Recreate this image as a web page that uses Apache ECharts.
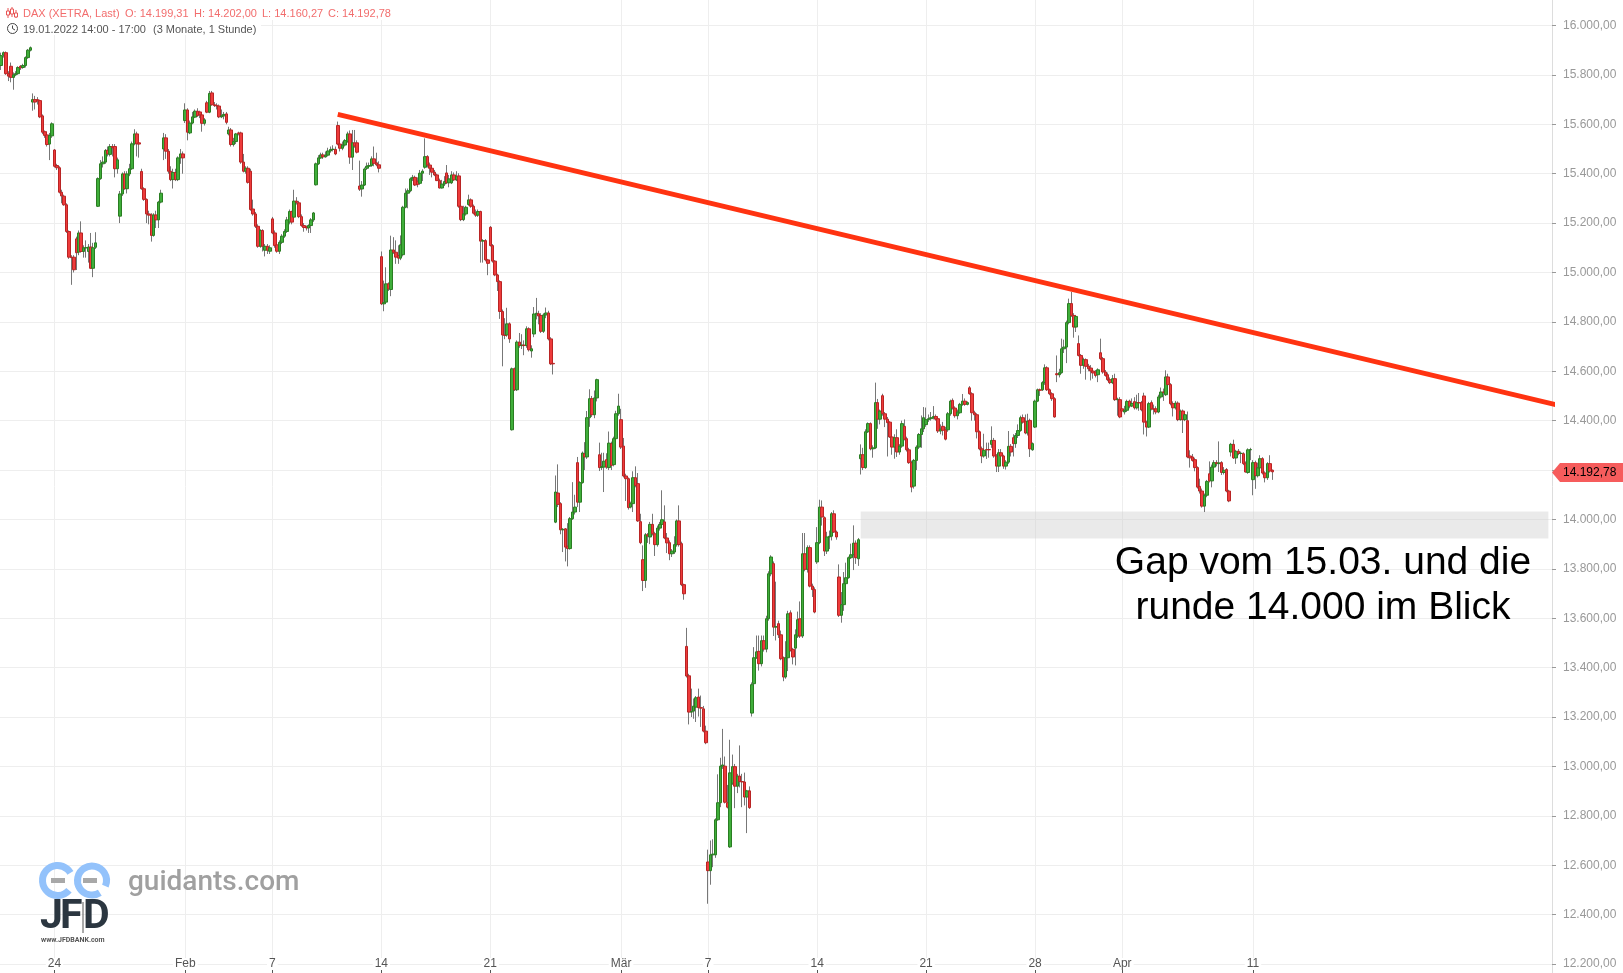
<!DOCTYPE html>
<html lang="de">
<head>
<meta charset="UTF-8">
<title>DAX Gap</title>
<script src="https://cdn.jsdelivr.net/npm/echarts@6/dist/echarts.min.js"></script>
<style>
html,body{margin:0;padding:0;background:#fff}
#my{width:1623px;height:973px}
</style>
</head>
<body>
<div id="my"></div>
<script>
// hourly candles, one row per trading day (9 candles a day, first row is the tail of 19.01.)
var openVals = [
15838,15880,15890,15805,
15835,15790,15800,15805,15835,15830,15838,15870,15900,
15690,15700,15700,15696,15634,15570,15557,15520,15553,
15496,15433,15424,15325,15309,15274,15166,15062,15062,
15136,15082,15160,15085,15100,15085,15103,15017,15102,
15268,15380,15440,15447,15495,15478,15510,15510,15420,
15228,15318,15399,15339,15399,15420,15521,15561,15525,
15409,15339,15296,15237,15233,15150,15233,15213,15285,
15500,15545,15491,15410,15376,15405,15376,15464,15480,
15615,15658,15565,15605,15629,15653,15650,15638,15604,
15687,15649,15727,15679,15677,15674,15630,15634,15642,
15561,15577,15518,15530,15565,15565,15447,15410,15422,
15410,15257,15237,15187,15106,15170,15090,15106,15086,
15217,15160,15112,15086,15122,15147,15166,15204,15247,
15224,15289,15282,15226,15190,15184,15180,15190,15213,
15355,15440,15464,15476,15468,15475,15492,15498,15498,
15595,15520,15503,15516,15531,15561,15467,15525,15525,
15350,15338,15354,15422,15430,15433,15460,15444,15436,
15064,14873,14880,14954,14931,15091,15082,15069,15058,
15072,15264,15321,15331,15379,15385,15370,15361,15402,
15426,15469,15435,15422,15406,15395,15372,15342,15358,
15403,15363,15363,15395,15375,15391,15268,15214,15237,
15275,15294,15268,15241,15232,15247,15127,15129,15051,
15183,15109,15046,14990,14963,14842,14747,14747,14792,
14363,14610,14525,14718,14704,14706,14704,14772,14682,
14751,14832,14833,14826,14762,14828,14836,14731,14632,
13989,14107,14064,13958,13962,13892,13882,14003,14030,
14230,14070,14149,14266,14253,14412,14489,14424,14492,
14262,14210,14212,14242,14210,14307,14222,14327,14428,
14404,14297,14176,14165,14050,14064,14169,14145,13991,
13837,13753,13938,13929,13980,13942,13898,13965,13980,
13990,13925,13906,13861,13868,13898,13994,13902,13736,
13486,13367,13220,13224,13240,13281,13238,13233,13143,
12613,12578,12642,12642,12784,12853,13001,13001,12853,
12674,12932,12999,12920,12961,12939,12937,12876,12901,
13216,13335,13440,13466,13416,13509,13475,13598,13780,
13821,13564,13578,13533,13440,13362,13440,13622,13474,
13479,13528,13598,13528,13861,13798,13886,13730,13716,
13828,13906,14050,14007,13872,13929,13932,14023,13949,
13767,13612,13655,13740,13764,13845,13857,13904,13841,
14246,14262,14210,14355,14388,14286,14290,14473,14406,
14501,14428,14406,14394,14334,14293,14331,14273,14297,
14377,14327,14282,14230,14135,14239,14293,14344,14367,
14384,14404,14408,14412,14417,14408,14358,14377,14363,
14363,14428,14482,14451,14420,14432,14466,14479,14466,
14533,14509,14432,14424,14355,14286,14257,14283,14283,
14304,14320,14257,14216,14270,14257,14216,14232,14296,
14331,14307,14340,14360,14412,14398,14350,14401,14282,
14374,14479,14525,14525,14554,14614,14525,14509,14489,
14590,14586,14594,14691,14698,14797,14874,14826,14779,
14712,14664,14624,14647,14621,14613,14601,14597,14586,
14675,14651,14597,14586,14566,14554,14570,14485,14485,
14448,14435,14442,14479,14459,14477,14452,14473,14473,
14500,14394,14374,14473,14448,14448,14435,14496,14516,
14505,14577,14546,14469,14452,14471,14404,14439,14404,
14400,14257,14253,14242,14210,14134,14115,14054,14098,
14185,14156,14212,14230,14226,14230,14190,14202,14115,
14273,14304,14249,14276,14267,14266,14228,14190,14282,
14161,14230,14177,14209,14246,14188,14169,14226,14199.31
];
var closeVals = [
15878,15890,15805,15795,
15790,15800,15805,15830,15828,15838,15870,15900,15910,
15700,15690,15695,15630,15568,15555,15518,15555,15602,
15430,15424,15325,15310,15274,15166,15062,15060,15011,
15080,15160,15085,15100,15100,15103,15017,15100,15120,
15380,15440,15447,15494,15480,15510,15505,15420,15456,
15318,15399,15339,15399,15420,15521,15561,15521,15520,
15339,15296,15237,15232,15150,15233,15213,15285,15321,
15545,15491,15410,15376,15405,15376,15464,15480,15464,
15658,15568,15605,15630,15653,15635,15638,15604,15618,
15649,15725,15679,15676,15674,15630,15634,15640,15608,
15577,15518,15530,15561,15562,15447,15410,15422,15365,
15255,15237,15187,15106,15170,15106,15106,15090,15100,
15160,15109,15086,15122,15147,15166,15213,15247,15204,
15289,15284,15226,15190,15182,15180,15190,15213,15241,
15440,15464,15476,15468,15475,15492,15498,15499,15480,
15520,15503,15516,15534,15561,15467,15525,15512,15487,
15337,15354,15419,15430,15433,15460,15442,15436,15422,
14873,14878,14954,14933,15091,15082,15062,15058,15112,
15264,15321,15331,15379,15385,15354,15356,15402,15410,
15469,15435,15422,15406,15395,15372,15342,15358,15368,
15363,15379,15395,15375,15390,15268,15214,15237,15264,
15294,15268,15240,15232,15247,15127,15129,15051,15037,
15109,15046,14990,14963,14842,14747,14745,14792,14731,
14610,14525,14718,14704,14706,14704,14772,14687,14691,
14832,14835,14824,14762,14828,14836,14731,14630,14630,
14111,14061,13958,13960,13888,13882,14003,14030,14050,
14070,14149,14269,14253,14412,14489,14424,14492,14566,
14210,14214,14236,14212,14309,14219,14327,14428,14459,
14293,14176,14165,14048,14064,14169,14138,13994,13906,
13753,13938,13933,13980,13942,13898,13965,13980,13999,
13925,13905,13861,13872,13898,13994,13898,13736,13699,
13366,13220,13222,13244,13278,13238,13236,13143,13096,
12578,12642,12645,12784,12853,13001,13006,12855,12835,
12974,12999,12920,12961,12939,12937,12876,12901,12833,
13331,13440,13464,13416,13509,13475,13598,13780,13848,
13564,13566,13533,13436,13362,13440,13618,13470,13443,
13533,13594,13528,13861,13798,13886,13730,13716,13625,
13906,14050,14010,13872,13929,13932,14023,13949,13929,
13612,13655,13740,13764,13845,13857,13904,13845,13918,
14262,14210,14355,14388,14286,14290,14473,14406,14439,
14428,14406,14392,14334,14293,14331,14273,14297,14388,
14325,14282,14230,14131,14239,14293,14344,14367,14412,
14404,14408,14412,14417,14406,14358,14366,14361,14325,
14428,14479,14451,14420,14435,14466,14479,14466,14473,
14509,14432,14424,14355,14286,14257,14280,14282,14282,
14320,14257,14216,14270,14257,14216,14232,14296,14273,
14307,14340,14360,14412,14394,14350,14398,14286,14307,
14479,14525,14523,14554,14614,14525,14509,14489,14415,
14586,14594,14691,14698,14797,14874,14826,14779,14822,
14664,14624,14647,14620,14610,14601,14593,14583,14606,
14651,14597,14583,14566,14554,14570,14485,14487,14415,
14439,14442,14478,14459,14470,14452,14473,14472,14444,
14394,14374,14469,14448,14446,14435,14496,14516,14515,
14577,14546,14469,14452,14471,14404,14439,14404,14424,
14253,14249,14239,14210,14131,14115,14054,14098,14154,
14156,14212,14230,14226,14229,14190,14199,14115,14075,
14304,14249,14276,14267,14268,14226,14192,14282,14283,
14230,14177,14209,14246,14188,14169,14226,14196,14192.78
];
var lowVals = [
15820,15870,15800,15775,
15770,15740,15795,15800,15820,15825,15830,15865,15895,
15655,15660,15680,15625,15560,15545,15510,15455,15545,
15425,15415,15320,15280,15270,15160,15055,14950,15000,
15010,15070,15080,15060,15060,15040,15015,14981,15095,
15265,15375,15425,15440,15470,15470,15470,15385,15400,
15200,15310,15335,15320,15390,15415,15515,15470,15465,
15335,15290,15200,15195,15125,15145,15180,15180,15280,
15455,15460,15400,15370,15340,15370,15370,15440,15400,
15605,15535,15560,15600,15625,15630,15625,15570,15595,
15645,15645,15675,15670,15660,15625,15625,15620,15600,
15555,15510,15510,15520,15555,15440,15405,15400,15360,
15250,15230,15180,15100,15100,15085,15065,15075,15075,
15155,15100,15080,15075,15115,15140,15160,15195,15195,
15215,15275,15220,15185,15165,15170,15160,15160,15205,
15352,15435,15460,15460,15465,15470,15485,15490,15475,
15515,15490,15495,15510,15525,15440,15415,15505,15482,
15330,15307,15350,15415,15425,15428,15430,15430,15405,
14868,14843,14875,14925,14904,15075,15035,15035,15050,
15065,15260,15260,15325,15370,15350,15345,15355,15370,
15420,15425,15395,15385,15390,15370,15340,15340,15350,
15358,15345,15358,15370,15370,15262,15208,15208,15230,
15270,15262,15235,15225,15225,15040,15040,15045,14989,
15105,15040,14985,14925,14812,14620,14730,14740,14715,
14360,14520,14520,14695,14690,14665,14695,14680,14655,
14738,14810,14790,14755,14755,14815,14725,14625,14587,
13985,14050,13940,13868,13830,13810,13878,13998,14020,
14050,14030,14145,14200,14245,14375,14415,14410,14478,
14196,14200,14111,14205,14200,14200,14215,14320,14420,
14285,14170,14075,14040,14045,14030,14130,13990,13900,
13710,13723,13905,13900,13935,13852,13890,13955,13975,
13920,13864,13835,13848,13860,13890,13890,13730,13675,
13360,13170,13200,13193,13180,13202,13160,13138,13090,
12444,12521,12592,12630,12780,12835,12990,12850,12830,
12670,12925,12831,12892,12915,12835,12842,12730,12828,
13202,13300,13435,13388,13405,13465,13462,13590,13770,
13528,13510,13520,13430,13345,13355,13386,13465,13413,
13409,13520,13520,13520,13790,13785,13725,13686,13620,
13820,13900,13975,13852,13860,13880,13915,13945,13918,
13605,13582,13630,13735,13760,13840,13795,13820,13812,
14182,14200,14205,14350,14280,14250,14285,14367,14385,
14420,14374,14255,14330,14262,14246,14253,14262,14290,
14320,14275,14225,14110,14125,14200,14285,14290,14354,
14375,14395,14400,14405,14400,14350,14345,14340,14320,
14355,14420,14445,14412,14405,14428,14460,14460,14462,
14505,14400,14400,14328,14280,14228,14250,14245,14250,
14290,14250,14192,14192,14240,14205,14202,14225,14255,
14255,14290,14330,14355,14388,14345,14340,14253,14278,
14370,14475,14500,14520,14545,14520,14503,14480,14412,
14556,14575,14590,14674,14633,14790,14820,14736,14759,
14660,14590,14610,14566,14600,14563,14570,14575,14556,
14645,14590,14578,14560,14548,14548,14480,14420,14410,
14415,14425,14435,14450,14455,14445,14445,14440,14438,
14344,14336,14370,14442,14425,14426,14430,14490,14480,
14500,14540,14462,14417,14445,14398,14400,14350,14398,
14248,14210,14234,14195,14125,14105,14048,14030,14090,
14150,14130,14200,14215,14192,14180,14182,14110,14070,
14255,14245,14225,14260,14228,14220,14190,14185,14240,
14098,14124,14170,14205,14182,14150,14160,14190,14160.27
];
var highVals = [
15890,15895,15895,15815,
15850,15810,15815,15835,15840,15845,15875,15905,15915,
15725,15715,15710,15700,15640,15575,15570,15565,15608,
15500,15440,15430,15335,15315,15280,15170,15070,15070,
15145,15170,15207,15110,15130,15115,15160,15120,15163,
15385,15455,15470,15500,15510,15520,15520,15520,15465,
15330,15405,15410,15410,15440,15530,15580,15570,15530,
15420,15345,15300,15250,15240,15240,15250,15290,15335,
15565,15560,15500,15430,15420,15420,15470,15500,15490,
15685,15665,15615,15650,15660,15665,15655,15645,15625,
15695,15735,15735,15690,15685,15680,15660,15650,15650,
15590,15585,15545,15565,15570,15570,15480,15430,15430,
15420,15295,15245,15195,15175,15175,15115,15115,15110,
15225,15170,15125,15130,15155,15175,15225,15255,15250,
15335,15305,15290,15235,15200,15190,15195,15220,15245,
15445,15475,15485,15485,15490,15505,15510,15515,15510,
15611,15540,15530,15540,15570,15575,15577,15577,15535,
15453,15370,15425,15445,15445,15470,15510,15485,15450,
15085,14967,15021,14960,15149,15143,15130,15110,15150,
15270,15340,15340,15385,15395,15392,15385,15415,15418,
15543,15475,15445,15430,15415,15400,15380,15375,15390,
15435,15395,15410,15405,15410,15402,15335,15270,15270,
15315,15300,15275,15255,15255,15250,15135,15135,15055,
15188,15115,15050,14995,14968,14850,14815,14857,14798,
14615,14615,14725,14755,14750,14725,14782,14778,14705,
14860,14897,14845,14835,14835,14858,14845,14738,14640,
14178,14223,14070,13965,13965,13985,14010,14151,14100,
14253,14155,14275,14313,14439,14527,14500,14522,14570,
14311,14270,14270,14268,14356,14315,14335,14440,14509,
14448,14330,14185,14170,14072,14195,14215,14188,14023,
13895,13945,13945,13990,14023,13950,13975,13990,14118,
14057,13945,13915,13880,13932,14000,14057,13910,13740,
13561,13375,13315,13275,13285,13315,13287,13245,13165,
12663,12700,12705,12790,12968,13035,13152,13040,12925,
13108,13048,13010,12970,13085,12970,12975,12905,12919,
13340,13483,13530,13530,13530,13530,13610,13790,13855,
13830,13748,13590,13550,13445,13507,13630,13632,13480,
13555,13627,13668,13945,13945,13895,13895,13740,13725,
13969,14080,14077,14012,13950,13955,14030,14037,13955,
13818,13706,13787,13825,13850,13902,13976,13915,13925,
14304,14290,14365,14393,14393,14300,14554,14488,14445,
14509,14435,14415,14398,14340,14345,14365,14305,14400,
14405,14335,14290,14238,14245,14300,14350,14421,14455,
14453,14425,14435,14459,14425,14415,14385,14395,14375,
14435,14485,14490,14458,14445,14472,14508,14490,14478,
14540,14515,14440,14430,14360,14295,14347,14311,14311,
14377,14330,14265,14285,14285,14262,14240,14358,14305,
14345,14350,14385,14420,14425,14425,14428,14408,14312,
14485,14530,14530,14560,14628,14620,14530,14515,14495,
14664,14610,14732,14728,14805,14894,14921,14835,14828,
14745,14670,14655,14652,14630,14625,14610,14605,14612,
14732,14658,14605,14595,14575,14585,14590,14493,14495,
14455,14460,14485,14485,14490,14495,14505,14512,14480,
14513,14400,14476,14482,14465,14458,14505,14534,14530,
14604,14590,14552,14478,14480,14478,14445,14445,14430,
14437,14280,14265,14250,14215,14165,14125,14105,14160,
14235,14222,14240,14240,14316,14236,14212,14208,14120,
14310,14323,14282,14285,14275,14272,14235,14288,14290,
14240,14238,14230,14260,14252,14195,14232,14260,14202
];
// date axis: slot number of the first candle of the labelled day
var slotCount = 641;
var tickSlots = [22,76,112,157,202,256,292,337,382,427,463,517];
var tickLabels = ['24','Feb','7','14','21','Mär','7','14','21','28','Apr','11'];
// trend line and gap zone
var trendSlots = [139,642];
var trendValues = [15640,14465];
var gapSlots = [355,639];
var gapValues = [14032,13923];
var lastPrice = '14.192,78';

var slots = [];
for (var i = 0; i < slotCount; i++) slots.push(String(i));
var wicks = openVals.map(function (o, k) { return [o, closeVals[k], lowVals[k], highVals[k]]; });
// bodies only: low/high clamped to the body so the wick layer below stays gray
var bodies = openVals.map(function (o, k) {
    return [o, closeVals[k], Math.min(o, closeVals[k]), Math.max(o, closeVals[k])];
});
function isTick(index) { return tickSlots.indexOf(index) >= 0; }
function fmtPrice(v) { return String(v).replace(/\B(?=(\d{3})+$)/g, '.') + ',00'; }

var sans = '"Liberation Sans", Arial, sans-serif';
var gridColor = '#eeeeee';

var mCharts = echarts.init(document.getElementById('my'), null, {renderer: 'canvas'});
mCharts.setOption({
    animation: false,
    backgroundColor: '#fff',
    grid: [
        {left: 0, right: 71, top: 0, bottom: 0},   // date axis, full height
        {left: 0, right: 71, top: 25.5, bottom: 9}   // price axis
    ],
    xAxis: [
        {
            gridIndex: 0, type: 'category', data: slots, position: 'bottom',
            axisLine: {show: false},
            axisTick: {show: true, inside: true, length: 3, alignWithLabel: true, interval: isTick, lineStyle: {color: '#555'}},
            splitLine: {show: true, alignWithLabel: true, interval: isTick, lineStyle: {color: gridColor}},
            axisLabel: {
                inside: true, margin: 3, interval: isTick, color: '#555', fontFamily: sans, fontSize: 12,
                backgroundColor: '#fff', padding: [0, 2, 0, 2],
                formatter: function (v) { return tickLabels[tickSlots.indexOf(+v)]; }
            }
        },
        {gridIndex: 1, type: 'category', data: slots, show: false}
    ],
    yAxis: [
        {
            gridIndex: 0, type: 'value', position: 'right', min: 0, max: 1,
            axisLine: {show: true, lineStyle: {color: '#dddddd'}},
            axisTick: {show: false}, axisLabel: {show: false}, splitLine: {show: false}
        },
        {
            gridIndex: 1, type: 'value', position: 'right', min: 12200, max: 16000, interval: 200,
            axisLine: {show: false},
            axisTick: {show: true, length: 4, lineStyle: {color: '#999'}},
            splitLine: {show: true, lineStyle: {color: gridColor}},
            axisLabel: {color: '#999', fontFamily: sans, fontSize: 12, margin: 11, formatter: fmtPrice}
        }
    ],
    series: [
        {
            name: 'gap', type: 'line', xAxisIndex: 1, yAxisIndex: 1, data: [], z: 1, silent: true,
            markArea: {
                silent: true,
                itemStyle: {color: 'rgba(205,205,205,0.42)'},
                data: [[{xAxis: gapSlots[0], yAxis: gapValues[0]}, {xAxis: gapSlots[1], yAxis: gapValues[1]}]]
            }
        },
        {
            name: 'wick', type: 'candlestick', xAxisIndex: 1, yAxisIndex: 1, data: wicks, barWidth: 1, z: 3,
            large: false, progressive: 0,
            itemStyle: {color: '#777', color0: '#777', borderColor: '#777', borderColor0: '#777', borderWidth: 1}
        },
        {
            name: 'DAX', type: 'candlestick', xAxisIndex: 1, yAxisIndex: 1, data: bodies, barWidth: 3, z: 4,
            large: false, progressive: 0,
            itemStyle: {color: '#3fae3a', color0: '#ee3b3b', borderColor: '#2a7d22', borderColor0: '#b92424', borderWidth: 1}
        },
        {
            name: 'trend', type: 'line', xAxisIndex: 1, yAxisIndex: 1, z: 5, symbol: 'none', silent: true, clip: false,
            data: [[trendSlots[0], trendValues[0]], [trendSlots[1], trendValues[1]]],
            lineStyle: {color: '#ff3311', width: 5}
        }
    ],
    graphic: [
        // header box
        {type: 'rect', z: 20, shape: {x: 0, y: 0, width: 393, height: 20}, style: {fill: '#fff'}},
        {type: 'rect', z: 20, shape: {x: 0, y: 20, width: 261, height: 15}, style: {fill: '#fff'}},
        {type: 'text', z: 21, x: 23, y: 14, style: {text: 'DAX (XETRA, Last)', fill: '#f26d6d', font: '11px ' + sans, verticalAlign: 'middle'}},
        {type: 'text', z: 21, x: 125, y: 14, style: {text: 'O: 14.199,31', fill: '#f26d6d', font: '11px ' + sans, verticalAlign: 'middle'}},
        {type: 'text', z: 21, x: 194, y: 14, style: {text: 'H: 14.202,00', fill: '#f26d6d', font: '11px ' + sans, verticalAlign: 'middle'}},
        {type: 'text', z: 21, x: 262, y: 14, style: {text: 'L: 14.160,27', fill: '#f26d6d', font: '11px ' + sans, verticalAlign: 'middle'}},
        {type: 'text', z: 21, x: 328, y: 14, style: {text: 'C: 14.192,78', fill: '#f26d6d', font: '11px ' + sans, verticalAlign: 'middle'}},
        {type: 'text', z: 21, x: 23, y: 30, style: {text: '19.01.2022 14:00 - 17:00', fill: '#555', font: '11px ' + sans, verticalAlign: 'middle'}},
        {type: 'text', z: 21, x: 153, y: 30, style: {text: '(3 Monate, 1 Stunde)', fill: '#555', font: '11px ' + sans, verticalAlign: 'middle'}},
        // candle icon
        {type: 'line', z: 21, shape: {x1: 8, y1: 8, x2: 8, y2: 18}, style: {stroke: '#e85555', lineWidth: 1}},
        {type: 'rect', z: 21, shape: {x: 6.5, y: 11, width: 3, height: 4}, style: {fill: '#fff', stroke: '#e85555'}},
        {type: 'line', z: 21, shape: {x1: 12, y1: 7, x2: 12, y2: 17}, style: {stroke: '#e85555', lineWidth: 1}},
        {type: 'rect', z: 21, shape: {x: 10.5, y: 9, width: 3, height: 5}, style: {fill: '#fff', stroke: '#e85555'}},
        {type: 'line', z: 21, shape: {x1: 16, y1: 10, x2: 16, y2: 18}, style: {stroke: '#e85555', lineWidth: 1}},
        {type: 'rect', z: 21, shape: {x: 14.5, y: 13, width: 3, height: 4}, style: {fill: '#fff', stroke: '#e85555'}},
        // clock icon
        {type: 'circle', z: 21, shape: {cx: 12.5, cy: 28.5, r: 5}, style: {fill: 'none', stroke: '#444', lineWidth: 1}},
        {type: 'polyline', z: 21, shape: {points: [[12.5, 25.5], [12.5, 28.5], [15, 30]]}, style: {fill: 'none', stroke: '#444', lineWidth: 1}},
        // annotation
        {type: 'text', z: 22, x: 1323, y: 563, style: {text: 'Gap vom 15.03. und die', fill: '#000', font: '39px ' + sans, align: 'center', verticalAlign: 'middle'}},
        {type: 'text', z: 22, x: 1323, y: 608, style: {text: 'runde 14.000 im Blick', fill: '#000', font: '39px ' + sans, align: 'center', verticalAlign: 'middle'}},
        // last price tag
        {type: 'polygon', z: 22, shape: {points: [[1552, 472.5], [1560, 463], [1623, 463], [1623, 482], [1560, 482]]}, style: {fill: '#f65c5c'}},
        {type: 'text', z: 23, x: 1563, y: 473, style: {text: lastPrice, fill: '#000', font: '12px ' + sans, verticalAlign: 'middle'}},
        // logo
        {type: 'arc', z: 22, shape: {cx: 57.5, cy: 880.5, r: 15, startAngle: 0.7, endAngle: 5.75}, style: {fill: 'none', stroke: '#93c2fb', lineWidth: 7}},
        {type: 'arc', z: 22, shape: {cx: 92, cy: 880.5, r: 14.5, startAngle: 1.0, endAngle: 2 * Math.PI + 0.4}, style: {fill: 'none', stroke: '#93c2fb', lineWidth: 7}},
        {type: 'rect', z: 22, shape: {x: 51, y: 878, width: 14, height: 5}, style: {fill: '#a8a8a8'}},
        {type: 'rect', z: 22, shape: {x: 83, y: 878, width: 14, height: 5}, style: {fill: '#a8a8a8'}},
        {type: 'text', z: 22, x: 40, y: 918, style: {text: 'J', fill: '#2b3640', font: '700 41px Roboto', verticalAlign: 'middle'}},
        {type: 'text', z: 22, x: 60, y: 918, style: {text: 'F', fill: '#2b3640', font: '700 41px Roboto', verticalAlign: 'middle'}},
        {type: 'text', z: 22, x: 83, y: 918, style: {text: 'D', fill: '#2b3640', font: '700 41px Roboto', verticalAlign: 'middle'}},
        {type: 'line', z: 23, shape: {x1: 83, y1: 902, x2: 83, y2: 933}, style: {stroke: '#555', lineWidth: 1}},
        {type: 'text', z: 22, x: 41, y: 940, style: {text: 'www.JFDBANK.com', fill: '#555', font: '700 7px Roboto', verticalAlign: 'middle'}},
        {type: 'text', z: 22, x: 128, y: 883, style: {text: 'guidants.com', fill: '#a0a0a0', font: '500 28px Roboto', verticalAlign: 'middle'}}
    ]
});
</script>
</body>
</html>
